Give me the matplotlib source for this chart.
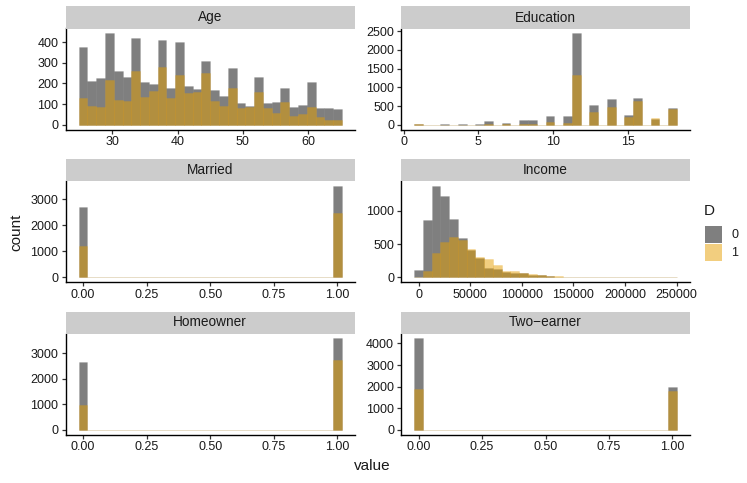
import numpy as np
import matplotlib
matplotlib.use("Agg")
import matplotlib.pyplot as plt
from matplotlib.patches import Rectangle
from matplotlib.ticker import FixedLocator, FuncFormatter

plt.rcParams['font.family'] = ['Liberation Sans', 'DejaVu Sans']

# histogram counts (30 bins per panel), D=0 and D=1
age_d0 = [376, 213, 227, 443, 262, 231, 421, 208, 199, 408, 179, 398, 190, 173, 306,
          170, 138, 274, 106, 93, 232, 106, 112, 179, 85, 98, 205, 80, 80, 77]
age_d1 = [128, 90, 86, 219, 118, 115, 261, 134, 162, 277, 128, 243, 155, 158, 250,
          115, 90, 180, 83, 87, 158, 80, 56, 110, 42, 51, 85, 37, 26, 26]

# education: only some of the 30 bins are filled
edu_bins = [0, 1, 3, 5, 7, 8, 10, 12, 13, 15, 17, 18, 20, 22, 24, 25, 27, 29]
edu_d0 = [25, 8, 20, 20, 25, 110, 45, 120, 135, 240, 245, 2450, 535, 690, 270, 710, 170, 455]
edu_d1 = [30, 3, 10, 10, 10, 20, 15, 25, 30, 80, 60, 1320, 335, 465, 215, 625, 180, 420]

inc_d0 = [118, 863, 1375, 1218, 882, 587, 409, 296, 148, 123, 79, 69, 64, 39, 30,
          22, 12, 8, 6, 5, 4, 3, 3, 2, 2, 1, 1, 1, 1, 1]
inc_d1 = [6, 99, 370, 527, 601, 557, 429, 306, 271, 187, 94, 94, 70, 48, 32,
          22, 15, 11, 8, 6, 5, 4, 3, 3, 2, 2, 2, 1, 1, 2]

# binary variables: counts at 0 and at 1
married_d0 = [2720, 3530]
married_d1 = [1210, 2490]
home_d0 = [2665, 3585]
home_d1 = [965, 2735]
two_d0 = [4250, 2000]
two_d1 = [1905, 1795]

def spread(idx, vals):
    out = np.zeros(30)
    out[idx] = vals
    return out

panels = [
    ('Age', np.linspace(25.5, 64.5, 30), age_d0, age_d1, [30, 40, 50, 60], [0, 100, 200, 300, 400], '%d'),
    ('Education', np.linspace(1, 18, 30), spread(edu_bins, edu_d0), spread(edu_bins, edu_d1),
     [0, 5, 10, 15], [0, 500, 1000, 1500, 2000, 2500], '%d'),
    ('Married', np.linspace(0, 1, 30), spread([0, 29], married_d0), spread([0, 29], married_d1),
     [0, 0.25, 0.5, 0.75, 1], [0, 1000, 2000, 3000], '%.2f'),
    ('Income', np.linspace(0, 246000, 30), inc_d0, inc_d1,
     [0, 50000, 100000, 150000, 200000, 250000], [0, 500, 1000], '%d'),
    ('Homeowner', np.linspace(0, 1, 30), spread([0, 29], home_d0), spread([0, 29], home_d1),
     [0, 0.25, 0.5, 0.75, 1], [0, 1000, 2000, 3000], '%.2f'),
    ('Two\u2212earner', np.linspace(0, 1, 30), spread([0, 29], two_d0), spread([0, 29], two_d1),
     [0, 0.25, 0.5, 0.75, 1], [0, 1000, 2000, 3000, 4000], '%.2f'),
]

W, H = 747, 483
fig = plt.figure(figsize=(W / 100, H / 100), dpi=100)

def px_axes(x0, y0, x1, y1):
    return fig.add_axes([x0 / W, 1 - y1 / H, (x1 - x0) / W, (y1 - y0) / H])

cols = [(65.5, 355), (401, 690)]
rows = [(28.5, 129.5), (181, 282), (333.5, 434.5)]
strip_h = 22

c0 = (0, 0, 0, 0.5)
c1 = (230 / 255, 159 / 255, 0, 0.5)
txt = '#1a1a1a'

for i, (name, centers, d0, d1, xt, yt, fmt) in enumerate(panels):
    x0, x1 = cols[i % 2]
    y0, y1 = rows[i // 2]
    ax = px_axes(x0, y0, x1, y1)
    w = centers[1] - centers[0]
    ax.bar(centers, d0, width=w, color=c0, edgecolor=(0.5, 0.5, 0.5, 0.25), linewidth=0.5)
    ax.bar(centers, d1, width=w, color=c1, edgecolor=(0.9, 0.62, 0, 0.2), linewidth=0.5)
    ymax = max(max(d0), max(d1))
    ax.set_ylim(-0.05 * ymax, 1.05 * ymax)
    span = centers[-1] - centers[0] + w
    lo = centers[0] - w / 2
    ax.set_xlim(lo - 0.05 * span, lo + span + 0.05 * span)
    ax.xaxis.set_major_locator(FixedLocator(xt))
    ax.yaxis.set_major_locator(FixedLocator(yt))
    ax.xaxis.set_major_formatter(FuncFormatter(lambda v, p, f=fmt: f % v))
    ax.yaxis.set_major_formatter(FuncFormatter(lambda v, p: '%d' % v))
    for s in ['top', 'right']:
        ax.spines[s].set_visible(False)
    for s in ['left', 'bottom']:
        ax.spines[s].set_linewidth(1.0)
        ax.spines[s].set_color('black')
    ax.tick_params(length=3, width=0.9, color='#333333', labelsize=9.0, labelcolor=txt, pad=2)

    sx = px_axes(x0, y0 - strip_h, x1, y0)
    sx.set_facecolor('#cccccc')
    sx.set_xticks([])
    sx.set_yticks([])
    for s in sx.spines.values():
        s.set_visible(False)
    sx.text(0.5, 0.5, name, ha='center', va='center', fontsize=9.8, color=txt,
            transform=sx.transAxes)

fig.text(16 / W, 1 - 232 / H, 'count', rotation=90, ha='center', va='center', fontsize=11, color=txt)
fig.text(372 / W, 1 - 466 / H, 'value', ha='center', va='center', fontsize=11, color=txt)

# legend
fig.text(704 / W, 1 - 211 / H, 'D', ha='left', va='center', fontsize=11, color=txt)
for j, (lab, col) in enumerate([('0', c0), ('1', c1)]):
    by = 226 + j * 18
    fig.add_artist(Rectangle((704.5 / W, 1 - (by + 17.3) / H), 17.5 / W, 17.3 / H,
                             transform=fig.transFigure, facecolor=col, edgecolor='none'))
    fig.text(731 / W, 1 - (by + 8.7) / H, lab, ha='left', va='center', fontsize=9.0, color=txt)

fig.savefig('out.png', dpi=100)
